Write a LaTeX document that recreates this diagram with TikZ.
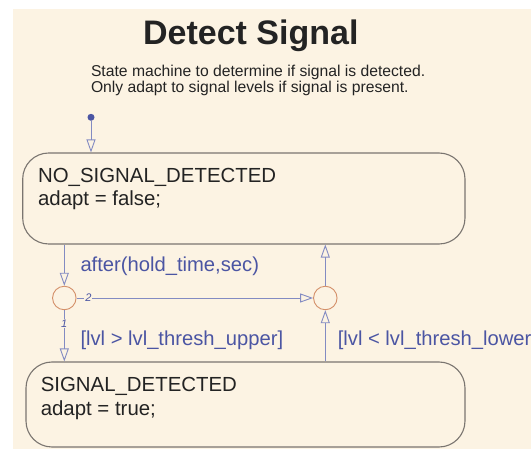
\documentclass[tikz,border=0pt]{standalone}
\usepackage{fontspec}
\setmainfont{Liberation Sans}
\usetikzlibrary{arrows.meta}
\definecolor{chartbg}{HTML}{FCF3E3}
\definecolor{darktext}{HTML}{232323}
\definecolor{stateline}{HTML}{7A7570}
\definecolor{transline}{HTML}{838BC2}
\definecolor{guardtext}{HTML}{4B55A3}
\definecolor{junctionline}{HTML}{D4906A}
\tikzstyle{state}=[draw=stateline,line width=1.1pt,rounded corners=26pt,inner sep=0pt]
\tikzstyle{junction}=[circle,draw=junctionline,line width=0.9pt,minimum size=23.5pt,inner sep=0pt]
\tikzstyle{trans}=[draw=transline,line width=0.9pt,-{Triangle[open,length=13pt,width=9pt]}]
\tikzstyle{guard}=[text=guardtext,font=\fontsize{20.2}{24}\selectfont,anchor=base west,inner sep=0pt]
\tikzstyle{statetext}=[text=darktext,font=\fontsize{20.4}{24}\selectfont,anchor=base west,inner sep=0pt]
\tikzstyle{order}=[fill=chartbg,text=guardtext,font=\fontsize{11}{13}\selectfont\itshape,inner sep=1pt]

\begin{document}
\begin{tikzpicture}[x=1pt,y=-1pt]
    \useasboundingbox (0,0) rectangle (531,449);
    \clip (0,0) rectangle (531,449);
    \fill[chartbg] (13,9) rectangle (531,449);

    % title and description
    \node[anchor=base,inner sep=0pt,text=darktext,font=\fontsize{34}{40}\selectfont\bfseries] (title) at (250.8,45) {Detect Signal};
    \foreach \pos/\name/\txt in {{(90.8,77)/descA/State machine to determine if signal is detected.},
                                 {(90.8,92.4)/descB/Only adapt to signal levels if signal is present.}}
        \node[anchor=base west,inner sep=0pt,text=darktext,font=\fontsize{15.7}{18}\selectfont] (\name) at \pos {\txt};

    % states
    \node[state,minimum width=442.3pt,minimum height=91pt] (nosig) at (243.85,198.5) {};
    \node[state,minimum width=439pt,minimum height=85pt] (sig) at (245.5,404.5) {};
    \foreach \pos/\name/\txt in {{(37.9,182.3)/nosigname/NO\_SIGNAL\_DETECTED}, {(37.9,206)/nosigact/adapt = false;},
                                 {(40.6,391.7)/signame/SIGNAL\_DETECTED}, {(40.6,415.5)/sigact/adapt = true;}}
        \node[statetext] (\name) at \pos {\txt};

    % default transition and junctions
    \node[circle,fill=guardtext,minimum size=7pt,inner sep=0pt] (init) at (91,117.3) {};
    \node[junction] (jleft) at (64.3,298) {};
    \node[junction] (jright) at (325.3,298) {};

    \path[trans] (init) -- (init |- nosig.north);
    \path[trans] (jleft |- nosig.south) -- (jleft);
    \path[trans] (jleft) -- node[order,pos=0.05] {2} (jright);
    \path[trans] (jleft) -- node[order,pos=0.26] {1} (jleft |- sig.north);
    \path[trans] (jright |- sig.north) -- (jright);
    \path[trans] (jright) -- (jright |- nosig.south);

    % guards
    \node[guard] (after) at (80.3,272) {after(hold\_time,sec)};
    \node[guard] (upper) at (80.3,346) {[lvl > lvl\_thresh\_upper]};
    \node[guard] (lower) at (337.6,346) {[lvl < lvl\_thresh\_lower]};
\end{tikzpicture}
\end{document}
